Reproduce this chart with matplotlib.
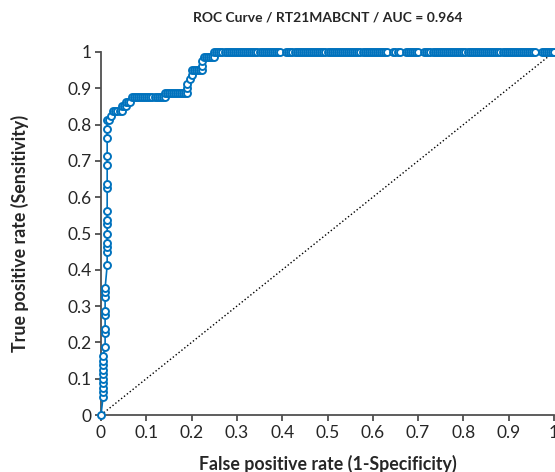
import numpy as np
import matplotlib
matplotlib.use("Agg")
from matplotlib import pyplot as plt

# ROC points, as counts (80 positives, 220 negatives)
n_pos = 80
n_neg = 220

fp_lower = [0,
            1, 1, 1, 1, 1, 1, 1, 1, 1, 1,
            2, 2, 2, 2, 2, 2, 2, 2,
            3, 3, 3, 3, 3, 3, 3, 3, 3, 3, 3, 3, 3, 3, 3,
            4, 5, 6, 7, 8, 9, 10, 10, 11, 12, 12, 13, 14,
            15, 16, 17, 18, 19, 20, 21, 22, 23, 24, 25, 26, 27, 28, 29, 30, 31,
            31, 32, 33, 34, 35, 36, 37, 38, 39, 40, 41, 42,
            42, 42, 43, 44, 44, 45, 46, 47, 48, 49, 49, 49,
            50, 51, 52, 53, 54, 55]
tp_lower = [0,
            4, 5, 6, 7, 8, 9, 10, 11, 12, 13,
            15, 18, 19, 22, 23, 26, 27, 28,
            33, 36, 37, 38, 40, 42, 43, 45, 50, 51, 55, 57, 61, 63, 65,
            65, 66, 67, 67, 67, 67, 67, 68, 68, 68, 69, 69, 69,
            70, 70, 70, 70, 70, 70, 70, 70, 70, 70, 70, 70, 70, 70, 70, 70, 70,
            71, 71, 71, 71, 71, 71, 71, 71, 71, 71, 71, 71,
            72, 73, 74, 75, 76, 76, 76, 76, 76, 76, 77, 78,
            79, 79, 79, 79, 79, 79]

# false positives along the sensitivity = 1 plateau
fp_top = [55, 56, 57, 58, 59, 60, 61, 62, 63, 64, 65, 66, 67, 68, 69, 70, 71,
          72, 73, 74, 75, 76, 77, 78, 79, 80, 81, 82, 83, 84, 85, 86, 87,
          90, 91, 92, 93, 94, 95, 96, 97, 98, 99, 100, 101, 102, 103, 104,
          105, 106, 107, 108, 109, 110, 111, 112, 113, 114, 115, 116, 117,
          118, 119, 120, 121, 122, 123, 124, 125, 126, 127, 128, 129, 130,
          131, 132, 133, 134, 135, 136, 137, 138, 139,
          142, 143, 144, 145,
          148, 149, 150, 151, 152, 153, 154,
          157, 158, 159, 160, 161, 162, 163, 164, 165, 166, 167, 168, 169,
          170, 171, 172, 173, 174, 175, 176, 177, 178, 179, 180, 181, 182,
          183, 184, 185, 186, 187, 188, 189, 190, 191, 192, 193, 194, 195,
          196, 197, 198, 199, 200, 201, 202, 203, 204, 205, 206, 207, 208,
          209, 210, 211,
          214, 215, 216, 217, 218, 219, 220]
tp_top = [80] * len(fp_top)

auc = 0.964
title = "ROC Curve / RT21MABCNT / AUC = %.3f" % auc
tick_vals = [0, 0.1, 0.2, 0.3, 0.4, 0.5, 0.6, 0.7, 0.8, 0.9, 1]
tick_labels = ["0", "0.1", "0.2", "0.3", "0.4", "0.5", "0.6", "0.7", "0.8", "0.9", "1"]

fpr = np.array(fp_lower + fp_top) / n_neg
tpr = np.array(tp_lower + tp_top) / n_pos

plt.rcParams['font.family'] = ['Lato', 'DejaVu Sans']
blue = '#0072BD'
dark = '#262626'

fig = plt.figure(figsize=(5.55, 4.72), dpi=100)
ax = fig.add_axes([101 / 555, 1 - 415 / 472, 453 / 555, 363 / 472])

ax.plot([0, 1], [0, 1], ':', color='black', lw=1.0, zorder=1)
ax.plot(fpr, tpr, '-o', color=blue, lw=1.2, markersize=5,
        markerfacecolor='white', markeredgecolor=blue, markeredgewidth=1.4,
        zorder=3, clip_on=False)

ax.set_xlim(0, 1)
ax.set_ylim(0, 1)
ax.set_xticks(tick_vals)
ax.set_xticklabels(tick_labels)
ax.set_yticks(tick_vals)
ax.set_yticklabels(tick_labels)
ax.tick_params(direction='out', length=4, width=1.2, color='#404040',
               labelcolor=dark, labelsize=12.5, pad=3)

for side in ['top', 'right']:
    ax.spines[side].set_visible(False)
for side in ['left', 'bottom']:
    ax.spines[side].set_color('#505050')
    ax.spines[side].set_linewidth(1.3)

ax.set_xlabel("False positive rate (1-Specificity)", fontsize=12.8,
              fontweight='bold', color=dark)
ax.xaxis.set_label_coords(0.5, -0.11)
ax.set_ylabel("True positive rate (Sensitivity)", fontsize=12.8,
              fontweight='bold', color=dark)
ax.yaxis.set_label_coords(-0.16, 0.5)
ax.set_title(title, fontsize=10, fontweight='bold', color=dark, pad=22)

fig.savefig("out.png", dpi=100)
